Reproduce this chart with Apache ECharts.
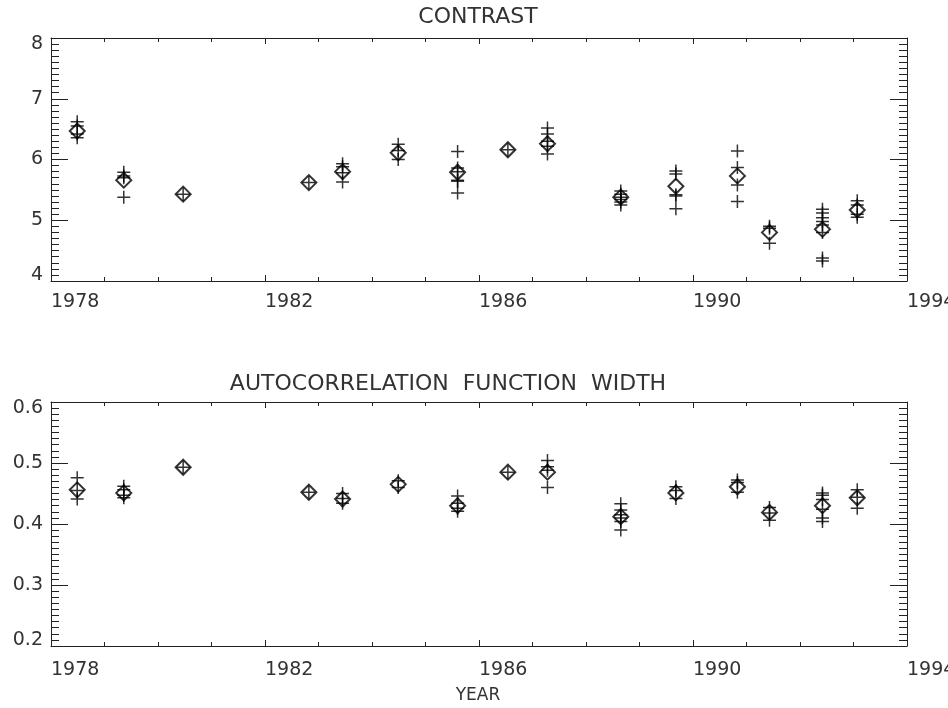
<!DOCTYPE html>
<html>
<head>
<meta charset="utf-8">
<script src="https://cdn.jsdelivr.net/npm/echarts@6/dist/echarts.min.js"></script>
<style>
  html, body { margin: 0; padding: 0; background: #fff; }
  #chart { width: 948px; height: 708px; }
</style>
</head>
<body>
<div id="chart"></div>
<script>
// observation epochs (decimal year)
var years = [1978.49, 1979.36, 1980.47, 1982.82, 1983.45, 1984.49, 1985.60, 1986.54,
  1987.28, 1988.65, 1989.68, 1990.83, 1991.43, 1992.42, 1993.07]

// contrast: mean (diamond) and single measurements (plus)
var contrastMean = [6.47, 5.66, 5.43, 5.62, 5.80, 6.11, 5.79, 6.16, 6.26, 5.38, 5.56, 5.73, 4.80, 4.85, 5.17]
var contrastObs = [
  [6.62, 6.55, 6.42, 6.36],
  [5.79, 5.73, 5.70, 5.38],
  [5.43],
  [5.62],
  [5.93, 5.88, 5.78, 5.63],
  [6.25, 6.15, 6.00],
  [6.13, 5.86, 5.80, 5.66, 5.64, 5.45],
  [6.16],
  [6.52, 6.42, 6.30, 6.22, 6.09],
  [5.48, 5.43, 5.38, 5.34, 5.30, 5.25],
  [5.81, 5.76, 5.42, 5.40, 5.19],
  [6.14, 5.87, 5.58, 5.31],
  [4.90, 4.87, 4.62],
  [5.18, 5.12, 5.04, 4.98, 4.92, 4.80, 4.38, 4.33],
  [5.32, 5.25, 5.10, 5.05]
]

// autocorrelation function width
var widthMean = [0.456, 0.451, 0.493, 0.452, 0.441, 0.465, 0.430, 0.485, 0.485, 0.412, 0.451, 0.461, 0.419, 0.430, 0.443]
var widthObs = [
  [0.476, 0.455, 0.441],
  [0.462, 0.456, 0.447, 0.443],
  [0.493],
  [0.452],
  [0.450, 0.442, 0.434],
  [0.471, 0.460],
  [0.446, 0.434, 0.426, 0.421],
  [0.485],
  [0.504, 0.494, 0.488, 0.460],
  [0.433, 0.423, 0.415, 0.410, 0.404, 0.390],
  [0.461, 0.455, 0.442],
  [0.472, 0.468, 0.452],
  [0.427, 0.418, 0.406],
  [0.451, 0.447, 0.440, 0.424, 0.410, 0.404],
  [0.456, 0.444, 0.426]
]

var xTicks = [1978, 1994, 4]
var contrastTicks = [4, 8, 1]
var widthTicks = [0.2, 0.6, 0.1]

var FONT = 'DejaVu Sans'
var INK = '#222'
var PLUS = 'path://M5,0L5,10M0,5L10,5'

function pairs(xs, ys) {
  var out = []
  for (var i = 0; i < xs.length; i++) out.push([xs[i], ys[i]])
  return out
}
function pairsMulti(xs, lists) {
  var out = []
  for (var i = 0; i < xs.length; i++) {
    for (var j = 0; j < lists[i].length; j++) out.push([xs[i], lists[i][j]])
  }
  return out
}

function xAxisFor(gridIndex, position, showLabel, margin) {
  return {
    type: 'value',
    gridIndex: gridIndex,
    position: position,
    min: xTicks[0],
    max: xTicks[1],
    interval: xTicks[2],
    axisLine: { show: true, onZero: false, lineStyle: { color: INK, width: 1 } },
    axisTick: { show: true, inside: true, length: 6, lineStyle: { color: INK } },
    minorTick: { show: true, splitNumber: 4, length: 4, lineStyle: { color: INK } },
    splitLine: { show: false },
    axisLabel: {
      show: showLabel,
      align: 'left',
      margin: margin || 12,
      color: '#333',
      fontSize: 19,
      fontFamily: FONT,
      formatter: function (v) { return String(v) }
    }
  }
}

function yAxisFor(gridIndex, position, showLabel, ticks) {
  return {
    type: 'value',
    gridIndex: gridIndex,
    position: position,
    min: ticks[0],
    max: ticks[1],
    interval: ticks[2],
    axisLine: { show: true, onZero: false, lineStyle: { color: INK, width: 1 } },
    axisTick: { show: true, inside: true, length: 17, lineStyle: { color: INK } },
    minorTick: { show: true, splitNumber: 10, length: 8, lineStyle: { color: INK } },
    splitLine: { show: false },
    axisLabel: {
      show: showLabel,
      margin: 8,
      color: '#333',
      fontSize: 19,
      lineHeight: 12,
      fontFamily: FONT,
      verticalAlignMinLabel: 'bottom',
      verticalAlignMaxLabel: 'top'
    }
  }
}

function meanSeries(xi, yi, data) {
  return {
    type: 'scatter',
    xAxisIndex: xi,
    yAxisIndex: yi,
    symbol: 'diamond',
    symbolSize: [15, 15],
    itemStyle: { color: 'rgba(0,0,0,0)', borderColor: '#000', borderWidth: 2 },
    data: data
  }
}
function obsSeries(xi, yi, data) {
  return {
    type: 'scatter',
    xAxisIndex: xi,
    yAxisIndex: yi,
    symbol: PLUS,
    symbolSize: [13, 13],
    itemStyle: { color: 'rgba(0,0,0,0)', borderColor: '#000', borderWidth: 1.5 },
    data: data
  }
}

var chart = echarts.init(document.getElementById('chart'))
chart.setOption({
  animation: false,
  backgroundColor: '#fff',
  grid: [
    { left: 51, top: 38, width: 856, height: 243, outerBoundsMode: 'none', containLabel: false },
    { left: 51, top: 402, width: 856, height: 244, outerBoundsMode: 'none', containLabel: false }
  ],
  xAxis: [
    xAxisFor(0, 'bottom', true, 12),
    xAxisFor(0, 'top', false),
    xAxisFor(1, 'bottom', true, 15),
    xAxisFor(1, 'top', false)
  ],
  yAxis: [
    yAxisFor(0, 'left', true, contrastTicks),
    yAxisFor(0, 'right', false, contrastTicks),
    yAxisFor(1, 'left', true, widthTicks),
    yAxisFor(1, 'right', false, widthTicks)
  ],
  graphic: [
    {
      type: 'text', x: 478, y: 17,
      style: { text: 'CONTRAST', font: '22px "DejaVu Sans"', fill: '#333', align: 'center', verticalAlign: 'middle' }
    },
    {
      type: 'text', x: 448, y: 384,
      style: { text: 'AUTOCORRELATION  FUNCTION  WIDTH', font: '22px "DejaVu Sans"', fill: '#333', align: 'center', verticalAlign: 'middle' }
    },
    {
      type: 'text', x: 478, y: 696,
      style: { text: 'YEAR', font: '17px "DejaVu Sans"', fill: '#333', align: 'center', verticalAlign: 'middle' }
    }
  ],
  series: [
    obsSeries(0, 0, pairsMulti(years, contrastObs)),
    meanSeries(0, 0, pairs(years, contrastMean)),
    obsSeries(2, 2, pairsMulti(years, widthObs)),
    meanSeries(2, 2, pairs(years, widthMean))
  ]
})
window.addEventListener('resize', function () { chart.resize() })
</script>
</body>
</html>
